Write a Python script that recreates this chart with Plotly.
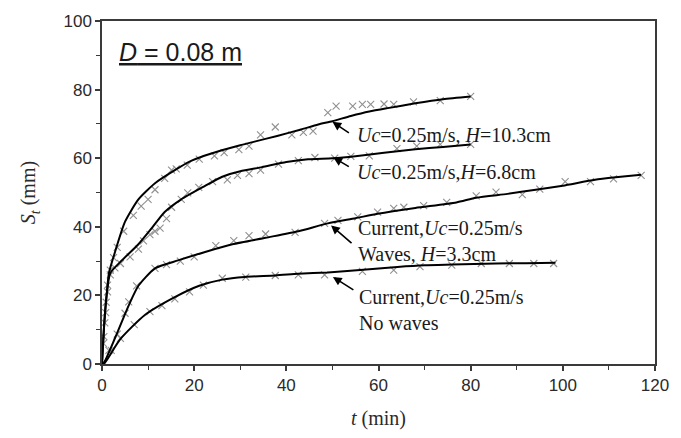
import plotly.graph_objects as go

# ---------------- data ----------------
# Series A: Uc=0.25 m/s, H=10.3 cm
a_t_obs = [0, 0.3, 0.6, 0.9, 1.2, 1.8, 2.5, 3.3, 4.7, 6.8, 8.5, 10, 11.5, 13.6, 15.1, 16.1, 18.5,
           21.1, 24.4, 26.5, 29.7, 31.9, 34.4, 37.6, 41.2, 43.7, 45.8, 49, 50.8, 54.4, 56.5, 58.3,
           61.2, 63.3, 67.6, 73.4, 80]
a_s_obs = [0, 6, 12, 18, 23, 27.4, 31, 34, 38.7, 43.3, 46, 48, 50.8, 54.1, 56.5, 56.9, 58,
           59.7, 60.7, 61.6, 62.5, 63.5, 66.8, 69.1, 66.8, 67.5, 67.9, 73.3, 75.2, 75.2, 75.7, 75.7,
           75.8, 75.7, 76.4, 76.8, 78]
a_t_fit = [0, 0.5, 1, 1.5, 2.9, 5, 7.9, 11.5, 15.8, 19, 22.2, 26, 30, 33.3, 38, 43, 46.9, 50,
           54, 58, 62, 68, 74, 80]
a_s_fit = [0, 12, 20, 26.5, 33, 41.5, 48, 52.7, 56.5, 59, 60.7, 62.3, 63.8, 64.9, 66.5, 68.3, 69.8, 70.8,
           72.3, 73.6, 74.6, 76, 77.2, 78]

# Series B: Uc=0.25 m/s, H=6.8 cm
b_t_obs = [0, 0.4, 0.8, 1.2, 1.8, 2.8, 4, 6.1, 7.9, 9, 10.4, 11.5, 12.6, 14, 15.1, 17.2, 18.6,
           21, 24, 27.2, 29.4, 31.9, 34.4, 38.3, 42.6, 46.2, 50.5, 54, 58, 64, 68.3, 73.4, 80]
b_s_obs = [0, 8, 15, 21, 26, 28, 29.3, 31.2, 33.5, 35.9, 37.7, 38.7, 39.6, 42.4, 45.7, 48, 49.9,
           51.5, 53.2, 53.7, 55, 55.5, 56.5, 58.3, 59.3, 60.2, 60, 60.5, 60.7, 62.8, 63.5, 64, 64]
b_t_fit = [0, 0.5, 1, 1.8, 4.3, 7.9, 10.8, 13.6, 17.2, 22.2, 26.1, 30, 34.7, 40, 44.7, 50, 55,
           61.2, 68, 74, 80]
b_s_fit = [0, 12, 20, 26.5, 30.2, 34.9, 39.6, 44.3, 48, 51.8, 54.6, 56.2, 57.4, 58.9, 59.7, 60, 60.6,
           61.6, 62.6, 63.3, 64]

# Series C: Current Uc=0.25 m/s + waves H=3.3 cm
c_t_obs = [0, 1.5, 3.3, 5, 5.8, 7.5, 11.5, 14, 17, 20, 24.7, 28.6, 31.9, 35.5, 41.9, 48.3, 51.2,
           55.5, 59.8, 63.3, 65.5, 69.8, 74.8, 81.2, 85.5, 91.2, 95, 100.5, 106, 111, 117]
c_s_obs = [0, 4, 8.7, 14.8, 18.1, 22.8, 27.9, 29, 30, 31.2, 34.5, 36, 37.4, 37.9, 38.4, 41, 41.9,
           42.9, 44.3, 45.4, 45.7, 46.2, 47.1, 49, 50.1, 49.4, 51, 53.2, 53.2, 54, 55]
c_t_fit = [0, 0.4, 2.9, 5.8, 7.9, 11.5, 16.5, 22.2, 28.3, 35.5, 42.6, 49, 55, 59.8, 68, 76.9,
           81.2, 88, 94.1, 100, 107, 112, 117]
c_s_fit = [0, 0.3, 7.8, 17.1, 22.8, 27.9, 30.2, 32.6, 34.9, 36.8, 38.7, 41, 42.5, 43.8, 45.5, 47.1,
           48.5, 49.6, 50.8, 52, 53.7, 54.5, 55.2]

# Series D: Current Uc=0.25 m/s, no waves
d_t_obs = [0, 2, 4, 7, 10.4, 13, 15.8, 19, 22, 26.1, 31.2, 37.6, 42.6, 48.3, 56.5, 63.3, 69, 75.9,
           82.3, 88.4, 93.7, 98]
d_s_obs = [0, 4, 7.5, 11.5, 15.3, 17, 19, 21, 23, 25, 25.3, 25.8, 26, 26, 27, 27.4, 28.4, 28.8,
           29.3, 29.3, 29.3, 29.3]
d_t_fit = [0, 0.4, 4, 9.3, 15.8, 21.1, 26.1, 31, 37.6, 42.6, 49, 56, 64.1, 70, 76, 85.5, 92, 98.4]
d_s_fit = [0, 0, 7.3, 14.3, 19.5, 22.8, 24.6, 25.4, 25.8, 26.3, 26.7, 27.4, 28.3, 28.8, 29, 29.3,
           29.4, 29.5]

x_ticks = [0, 20, 40, 60, 80, 100, 120]
y_ticks = [0, 20, 40, 60, 80, 100]

labels = [
    "<i>Uc</i>=0.25m/s, <i>H</i>=10.3cm",
    "<i>Uc</i>=0.25m/s,<i>H</i>=6.8cm",
    "Current,<i>Uc</i>=0.25m/s<br>Waves, <i>H</i>=3.3cm",
    "Current,<i>Uc</i>=0.25m/s<br>No waves",
]
label_pos = [(55.0, 66.9), (55.0, 55.9), (55.2, 35.8), (55.4, 15.7)]
arrow_tip = [(50.0, 70.6), (50.2, 60.2), (49.7, 40.4), (50.1, 25.4)]
arrow_off = [(18, 12), (17, 10), (22, 19), (22, 14)]

# ---------------- figure ----------------
fig = go.Figure()
obs = [(a_t_obs, a_s_obs), (b_t_obs, b_s_obs), (c_t_obs, c_s_obs), (d_t_obs, d_s_obs)]
fits = [(a_t_fit, a_s_fit), (b_t_fit, b_s_fit), (c_t_fit, c_s_fit), (d_t_fit, d_s_fit)]

for t, s in obs:
    fig.add_trace(go.Scatter(x=t, y=s, mode="markers", showlegend=False,
                             marker=dict(symbol="x-thin", size=7, color="#909090",
                                         line=dict(width=1.1, color="#909090"))))
for t, s in fits:
    fig.add_trace(go.Scatter(x=t, y=s, mode="lines", showlegend=False,
                             line=dict(color="black", width=2, shape="spline", smoothing=0.6)))

axis_col = "#3a3a3a"
tickfont = dict(family="Liberation Sans, Arial", size=17, color="#2a2a2a")

fig.update_layout(
    width=681, height=438,
    margin=dict(l=101.5, r=20, t=15, b=67),
    paper_bgcolor="white", plot_bgcolor="white",
    xaxis=dict(range=[0, 120], tickvals=x_ticks, ticks="outside", ticklen=5, tickwidth=1.5,
               tickcolor=axis_col, showline=True, linecolor=axis_col, linewidth=1.5, mirror=True,
               showgrid=False, zeroline=False, tickfont=tickfont,
               minor=dict(dtick=10, ticks="outside", ticklen=4, tickwidth=1.2, tickcolor=axis_col),
               title=dict(text="<i>t</i> (min)", standoff=17,
                          font=dict(family="Liberation Serif, Times New Roman", size=20, color="#2a2a2a"))),
    yaxis=dict(range=[0, 100], tickvals=y_ticks, ticks="outside", ticklen=5, tickwidth=1.5,
               tickcolor=axis_col, showline=True, linecolor=axis_col, linewidth=1.5, mirror=True,
               showgrid=False, zeroline=False, tickfont=tickfont,
               minor=dict(dtick=10, ticks="outside", ticklen=4, tickwidth=1.2, tickcolor=axis_col),
               title=dict(text="<i>S</i><sub><i>t</i></sub> (mm)", standoff=22,
                          font=dict(family="Liberation Serif, Times New Roman", size=20, color="#2a2a2a"))),
    xaxis2=dict(range=[0, 120], overlaying="x", side="top", tickvals=x_ticks, ticks="inside",
                ticklen=5, tickwidth=1.5, tickcolor=axis_col, showticklabels=False,
                showline=False, showgrid=False, zeroline=False,
                minor=dict(dtick=10, ticks="inside", ticklen=4, tickwidth=1.2, tickcolor=axis_col)),
    yaxis2=dict(range=[0, 100], overlaying="y", side="right", tickvals=y_ticks, ticks="inside",
                ticklen=5, tickwidth=1.5, tickcolor=axis_col, showticklabels=False,
                showline=False, showgrid=False, zeroline=False,
                minor=dict(dtick=10, ticks="inside", ticklen=4, tickwidth=1.2, tickcolor=axis_col)),
)

# panel title
fig.add_annotation(x=3.3, y=91, xref="x", yref="y", xanchor="left", yanchor="middle",
                   text="<u><i>D</i> = 0.08 m</u>", showarrow=False,
                   font=dict(family="Liberation Sans, Arial", size=25, color="#1a1a1a"))

for (lx, ly), txt in zip(label_pos, labels):
    fig.add_annotation(x=lx, y=ly, xref="x", yref="y", xanchor="left", yanchor="middle",
                       text=txt, showarrow=False, align="left",
                       font=dict(family="Liberation Serif, Times New Roman", size=20, color="#1a1a1a"))

for (tx, ty), (ox, oy) in zip(arrow_tip, arrow_off):
    fig.add_annotation(x=tx, y=ty, xref="x", yref="y", text="", showarrow=True,
                       ax=ox, ay=oy, arrowhead=2, arrowsize=1.1, arrowwidth=1.6,
                       arrowcolor="black", standoff=0)

fig.write_html("out.html", config={"displayModeBar": False},
               post_script="document.body.style.margin='0';document.body.style.overflow='hidden';")
